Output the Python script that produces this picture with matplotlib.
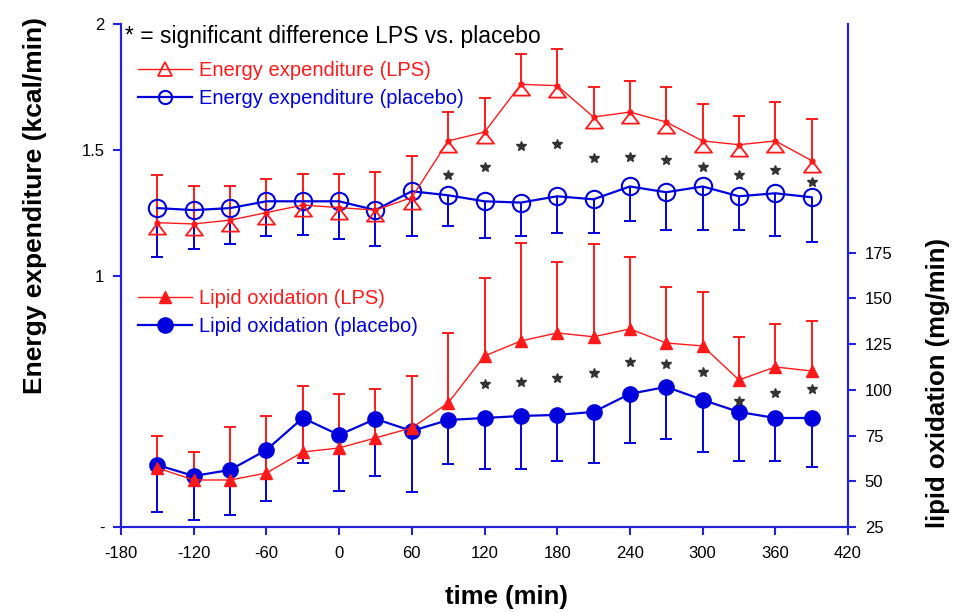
import matplotlib
matplotlib.use('Agg')
import matplotlib.pyplot as plt
import numpy as np
from matplotlib.lines import Line2D
from matplotlib.path import Path

plt.rcParams['font.family'] = ['Liberation Sans', 'DejaVu Sans']
plt.rcParams['axes.unicode_minus'] = False

# time points (min)
t = [-150, -120, -90, -60, -30, 0, 30, 60, 90, 120, 150, 180, 210, 240, 270, 300, 330, 360, 390]

# energy expenditure (kcal/min), mean and SD
ee_lps = [1.21, 1.205, 1.22, 1.25, 1.28, 1.27, 1.26, 1.31, 1.535, 1.57, 1.76, 1.755,
          1.63, 1.65, 1.61, 1.535, 1.52, 1.535, 1.457]
ee_lps_sd = [0.19, 0.15, 0.135, 0.135, 0.125, 0.135, 0.15, 0.165, 0.115, 0.135, 0.12, 0.145,
             0.12, 0.125, 0.14, 0.145, 0.115, 0.155, 0.165]
ee_pla = [1.268, 1.26, 1.268, 1.295, 1.295, 1.295, 1.26, 1.335, 1.319, 1.295, 1.29, 1.315,
          1.303, 1.354, 1.331, 1.354, 1.315, 1.327, 1.311]
ee_pla_sd = [0.193, 0.154, 0.142, 0.138, 0.134, 0.149, 0.142, 0.178, 0.122, 0.145, 0.133, 0.146,
             0.134, 0.137, 0.15, 0.173, 0.134, 0.17, 0.177]

# lipid oxidation (mg/min), mean and SD
lo_lps = [57.3, 50.7, 50.7, 54.5, 66.0, 68.2, 73.7, 79.2, 92.8, 118.5, 126.7, 131.1,
          129.0, 133.3, 125.6, 124.0, 105.4, 112.5, 110.3]
lo_lps_sd = [17.5, 15.3, 29.0, 31.2, 36.1, 29.6, 26.8, 28.4, 38.3, 42.7, 53.6, 38.9,
             50.8, 39.4, 30.7, 29.5, 23.6, 23.5, 27.4]
lo_pla = [58.9, 52.9, 56.2, 67.1, 84.6, 75.3, 84.1, 77.5, 83.5, 84.6, 85.7, 86.3,
          87.9, 97.8, 101.6, 94.5, 87.9, 84.6, 84.6]
lo_pla_sd = [25.7, 24.1, 24.6, 27.9, 24.6, 30.6, 31.2, 33.4, 24.0, 27.9, 29.0, 25.2,
             27.9, 26.9, 28.5, 28.5, 26.8, 23.5, 26.8]

# significance stars
ee_star_t = [90, 120, 150, 180, 210, 240, 270, 300, 330, 360, 390]
ee_star_y = [1.40, 1.43, 1.516, 1.524, 1.469, 1.472, 1.461, 1.43, 1.40, 1.421, 1.37]
lo_star_t = [120, 150, 180, 210, 240, 270, 300, 330, 360, 390]
lo_star_y = [103.2, 104.3, 106.5, 109.3, 115.3, 114.2, 109.8, 93.9, 98.3, 100.5]

RED = '#ff1a1a'
BLUE = '#0000dd'
AXBLUE = '#2222dd'

# open triangle hanging below its data point (apex on the point)
hang_tri = Path([(0, 0), (-0.77, -1), (0.77, -1), (0, 0)],
                [Path.MOVETO, Path.LINETO, Path.LINETO, Path.CLOSEPOLY])

fig = plt.figure(figsize=(9.63, 6.12), dpi=100)
ax = fig.add_axes([121/963, 1-527/612, 727/963, 503/612])
ax2 = ax.twinx()


def one_sided(axis, x, y, sd, color, up=True, lw=1.4):
    x = np.array(x)
    y = np.array(y)
    sd = np.array(sd)
    end = y + sd if up else y - sd
    axis.vlines(x, y, end, color=color, lw=lw, zorder=2)
    axis.plot(x, end, ls='none', marker='_', ms=9, mew=lw, color=color, zorder=2)


# energy expenditure (left axis)
one_sided(ax, t, ee_pla, ee_pla_sd, BLUE, up=False)
one_sided(ax, t, ee_lps, ee_lps_sd, RED, up=True)
ax.plot(t, ee_pla, color=BLUE, lw=1.6, marker='o', ms=12.5, mfc='none', mew=1.5, zorder=3)
ax.plot(t, ee_lps, color=RED, lw=1.0, marker=hang_tri, ms=16, mfc='none', mew=1.3, zorder=3)
ax.plot(t, ee_lps, ls='none', marker='o', ms=3.5, color=RED, zorder=4)
ax.plot(ee_star_t, ee_star_y, ls='none', marker='*', ms=7.5, color='#333333', zorder=4)

# lipid oxidation (right axis)
one_sided(ax2, t, lo_pla, lo_pla_sd, BLUE, up=False)
one_sided(ax2, t, lo_lps, lo_lps_sd, RED, up=True)
ax2.plot(t, lo_pla, color=BLUE, lw=1.6, marker='o', ms=11, zorder=3)
ax2.plot(t, lo_lps, color=RED, lw=1.0, marker='^', ms=9, zorder=3)
ax2.plot(lo_star_t, lo_star_y, ls='none', marker='*', ms=7.5, color='#333333', zorder=4)

# axes
ax.set_xlim(-180, 420)
ax.set_ylim(0, 2)
ax2.set_ylim(25, 300)
ax.set_xticks(np.arange(-180, 421, 60))
ax.set_yticks([0, 1, 1.5, 2])
ax.set_yticklabels(['-', '1', '1.5', '2'])
ax2.set_yticks([25, 50, 75, 100, 125, 150, 175])

for a in (ax, ax2):
    a.spines['top'].set_visible(False)
    for s in ('left', 'right', 'bottom'):
        a.spines[s].set_color(AXBLUE)
        a.spines[s].set_linewidth(1.5)
    a.tick_params(color=AXBLUE, width=1.5, length=6, labelsize=12, direction='out')
ax.tick_params(axis='x', pad=8)
ax.tick_params(axis='y', pad=6)
ax2.tick_params(axis='y', pad=6)

fig.text(35/963, 1-206/612, 'Energy expenditure (kcal/min)', rotation=90,
         ha='center', va='center', fontsize=19, fontweight='bold')
fig.text(938/963, 1-383/612, 'lipid oxidation (mg/min)', rotation=90,
         ha='center', va='center', fontsize=18.5, fontweight='bold')
fig.text(506/963, 1-597/612, 'time (min)', ha='center', va='center',
         fontsize=18.5, fontweight='bold')

fig.text(125/963, 1-36/612, '* = significant difference LPS vs. placebo',
         ha='left', va='center', fontsize=16.5)

# legends
h1 = [Line2D([], [], color=RED, lw=1.0, marker='^', ms=10, mfc='none', mew=1.3),
      Line2D([], [], color=BLUE, lw=1.6, marker='o', ms=9.5, mfc='none', mew=1.5)]
leg1 = ax.legend(h1, ['Energy expenditure (LPS)', 'Energy expenditure (placebo)'],
                 loc='center left', bbox_to_anchor=(0.023, 0.879), frameon=False,
                 fontsize=14.5, handlelength=2.7, handletextpad=0.35, labelspacing=0.45,
                 borderaxespad=0, borderpad=0)
for txt, c in zip(leg1.get_texts(), [RED, BLUE]):
    txt.set_color(c)
ax.add_artist(leg1)

h2 = [Line2D([], [], color=RED, lw=1.0, marker='^', ms=9),
      Line2D([], [], color=BLUE, lw=1.6, marker='o', ms=11)]
leg2 = ax.legend(h2, ['Lipid oxidation (LPS)', 'Lipid oxidation (placebo)'],
                 loc='center left', bbox_to_anchor=(0.023, 0.426), frameon=False,
                 fontsize=14.5, handlelength=2.7, handletextpad=0.35, labelspacing=0.45,
                 borderaxespad=0, borderpad=0)
for txt, c in zip(leg2.get_texts(), [RED, BLUE]):
    txt.set_color(c)

fig.savefig('out.png', dpi=100)
